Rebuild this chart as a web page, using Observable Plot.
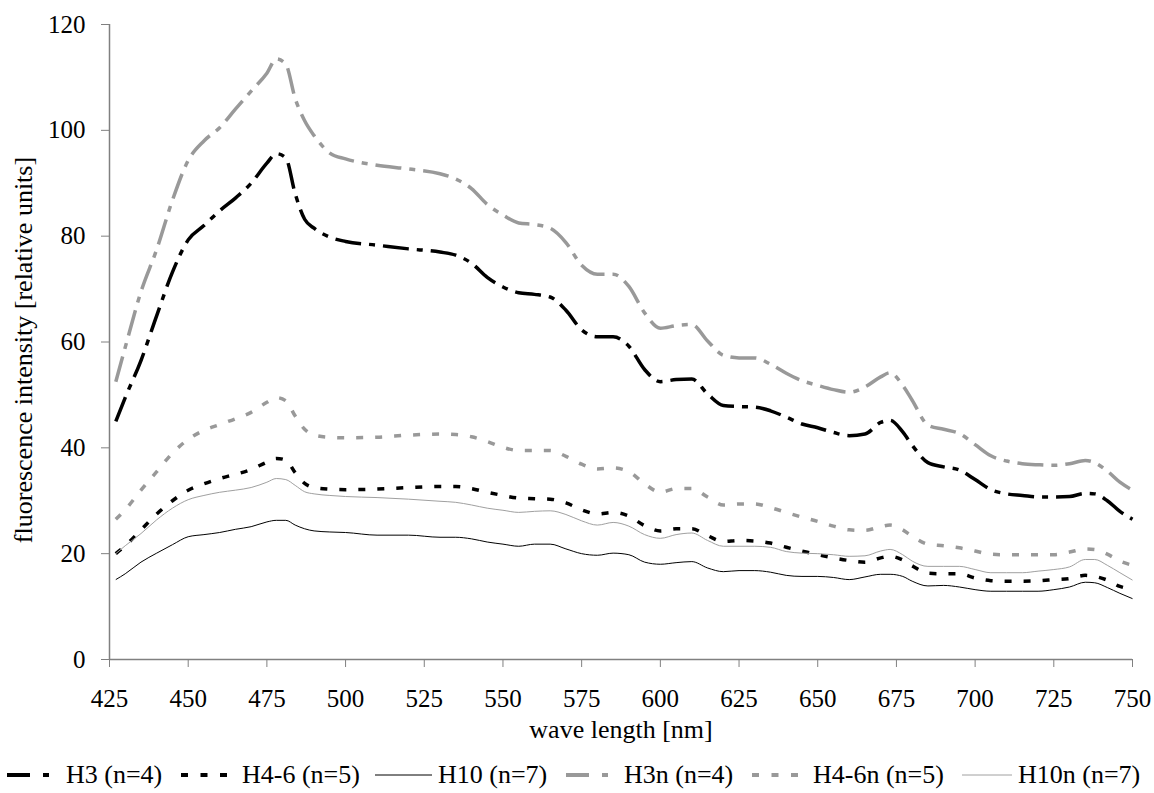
<!DOCTYPE html>
<html>
<head>
<meta charset="utf-8">
<script src="https://cdn.jsdelivr.net/npm/d3@7"></script>
<script src="https://cdn.jsdelivr.net/npm/@observablehq/plot@0.6"></script>
<style>
  html, body { margin: 0; padding: 0; background: #fff; }
  body { width: 1154px; height: 793px; overflow: hidden; font-family: "Liberation Serif", "Times New Roman", serif; }
  #chart svg g[aria-label^="x-axis"] line,
  #chart svg g[aria-label^="x-axis"] path,
  #chart svg g[aria-label^="y-axis"] line,
  #chart svg g[aria-label^="y-axis"] path { stroke: #808080; }
  #chart svg g[aria-label^="x-axis"] text,
  #chart svg g[aria-label^="y-axis"] text { font-size: 25px; fill: #000; font-family: "Liberation Serif", "Times New Roman", serif; }
  #legend { position: relative; width: 1154px; height: 48px; font-size: 26px; color: #000; }
  #legend .item { position: absolute; top: 30px; transform: translateY(-50%); display: flex; align-items: center; white-space: nowrap; line-height: 30px; }
</style>
</head>
<body>
<div id="chart"></div>
<div id="legend"></div>
<script>
// Wavelength grid (nm)
const wavelengths = [427,430,435,440,445,450,455,460,465,470,475,478,481,484,487,490,495,500,510,520,530,535,540,545,550,555,560,565,570,575,580,585,590,595,600,605,610,615,620,625,630,635,640,645,650,655,660,665,670,673,677,680,685,690,695,700,705,710,715,720,725,730,735,738,742,746,750];

const seriesNames = ["H3 (n=4)", "H4-6 (n=5)", "H10 (n=7)", "H3n (n=4)", "H4-6n (n=5)", "H10n (n=7)"];

const H3 = [45,49.5,56.5,65,73.2,79.3,82,84.8,87.2,90,93.8,95.6,94.8,88,83.2,81.5,79.8,79,78.3,77.6,77,76.4,74.9,72.2,70.4,69.3,69,68.5,66,62.3,61,61,59.2,54.8,52.5,52.9,53,50.2,48,47.8,47.7,47,45.8,44.5,43.8,42.9,42.3,42.6,44.8,45.2,43,40.5,37.2,36.4,35.8,34,32.1,31.3,31,30.7,30.7,30.8,31.4,31.3,30,28,26.5];
const H46 = [20,21.5,24.5,27.5,30,32,33.2,34.2,35,35.9,37.3,38,37.7,35.3,33.3,32.5,32.2,32.1,32.2,32.5,32.7,32.7,32.3,31.6,31,30.5,30.4,30.3,29.6,28.3,27.5,27.8,27.1,25.3,24.3,24.7,24.7,23.4,22.3,22.5,22.4,22,21.2,20.5,19.8,19.2,18.7,18.4,19.2,19.5,18.8,17.7,16.3,16.2,16.2,15.4,14.9,14.8,14.8,14.9,15.1,15.3,15.9,15.7,15,13.8,13.3];
const H10 = [15.1,16.2,18.4,20.1,21.7,23.2,23.6,24,24.6,25.1,26,26.3,26.3,25.4,24.7,24.3,24.1,24,23.5,23.5,23.1,23.1,22.8,22.2,21.8,21.4,21.8,21.8,20.9,20,19.7,20.1,19.8,18.4,18,18.3,18.5,17.3,16.6,16.8,16.8,16.5,15.9,15.7,15.7,15.5,15.1,15.6,16.1,16.1,15.7,14.8,13.9,14,13.7,13.2,12.9,12.9,12.9,12.9,13.2,13.7,14.6,14.5,13.6,12.5,11.5];
const H3n = [52.5,59,69.5,77.5,86.8,94.3,98,100.5,104,107.4,110.8,113.5,112.5,106,101.8,99,95.7,94.6,93.4,92.7,91.8,90.8,89,86,84,82.5,82.2,81.5,78.8,74.5,72.8,72.8,70.5,65.5,62.6,63.1,63.3,60.2,57.5,57,57,55.8,54.1,52.7,51.8,51,50.5,51.5,53.4,54.2,51.8,49,44.3,43.5,42.7,40.6,38.5,37.5,37,36.8,36.7,37,37.6,37.2,35.6,33.5,32];
const H46n = [26.5,28.3,32,35.5,39,41.6,43.3,44.4,45.5,46.7,48.6,49.5,48.9,46,43.5,42.4,42,41.9,42,42.4,42.6,42.5,42.1,41.2,40.1,39.5,39.5,39.5,38.4,36.9,36,36.2,35.5,33.2,31.6,32.3,32.3,30.7,29.2,29.4,29.4,28.7,27.8,26.9,26.1,25.2,24.5,24.4,25.1,25.4,24.5,23.3,21.8,21.5,21.1,20.5,19.9,19.8,19.8,19.8,19.8,20.3,20.9,20.8,19.9,18.6,17.8];
const H10n = [20,21.5,23.8,26.4,28.6,30.2,31,31.6,32,32.5,33.5,34.2,34,32.9,31.7,31.3,31,30.8,30.6,30.3,29.9,29.7,29.2,28.6,28.2,27.8,28,28.1,27.4,26.2,25.4,25.9,25.2,23.6,22.9,23.6,23.9,22.5,21.4,21.4,21.4,21.2,20.4,20.1,20,19.8,19.5,19.6,20.5,20.8,19.8,18.6,17.6,17.6,17.6,17,16.4,16.4,16.4,16.7,17,17.5,18.9,18.9,17.8,16.4,15];

const xTicks = [425,450,475,500,525,550,575,600,625,650,675,700,725,750];
const yTicks = [0,20,40,60,80,100,120];

const seriesValues = [H3, H46, H10, H3n, H46n, H10n];

// Styles (kept separate from data)
const styles = [
  {stroke: "#000", width: 3.5, dash: "26,8,6,8"},
  {stroke: "#000", width: 3.5, dash: "7,12"},
  {stroke: "#000", width: 1, dash: null},
  {stroke: "#999", width: 3.5, dash: "26,8,6,8"},
  {stroke: "#999", width: 3.5, dash: "7,12"},
  {stroke: "#a0a0a0", width: 1, dash: null}
];
// Legend layout: item left x, swatch width, swatch dash, gap to text
const legendLayout = [
  {left: 7, w: 43, dash: "23,13,6,13", gap: 16},
  {left: 181, w: 46, dash: "7,12.5", gap: 15},
  {left: 375, w: 57, dash: null, gap: 6},
  {left: 566, w: 42, dash: "23,13,6,13", gap: 16},
  {left: 752, w: 46, dash: "7,12.5", gap: 15},
  {left: 962, w: 50, dash: null, gap: 6}
];

const tables = seriesValues.map((vals, i) =>
  wavelengths.map((w, j) => ({wl: w, v: vals[j], series: seriesNames[i]}))
);

const lineMarks = tables.map((t, i) => Plot.line(t, {
  x: "wl", y: "v",
  stroke: styles[i].stroke,
  strokeWidth: styles[i].width,
  strokeDasharray: styles[i].dash,
  curve: "monotone-x",
  strokeLinecap: "butt",
  strokeLinejoin: "round"
}));

const plot = Plot.plot({
  width: 1154,
  height: 745,
  marginLeft: 109,
  marginRight: 22,
  marginTop: 24,
  marginBottom: 86,
  style: {fontFamily: "'Liberation Serif', 'Times New Roman', serif", fontSize: "25px", color: "#000", background: "#fff", overflow: "visible"},
  x: {domain: [425, 750], ticks: xTicks, tickSize: 8, tickPadding: 22, label: null, tickFormat: d => String(d)},
  y: {domain: [0, 120], ticks: yTicks, tickSize: 8, tickPadding: 16, label: null, tickFormat: d => String(d)},
  marks: [
    Plot.ruleX([425], {stroke: "#808080", strokeWidth: 1.5}),
    Plot.ruleY([0], {stroke: "#808080", strokeWidth: 1.5}),
    ...lineMarks,
    Plot.text(["wave length [nm]"], {frameAnchor: "bottom", dy: 78, fontSize: 26, fill: "#000"}),
    Plot.text(["fluorescence intensity [relative units]"], {frameAnchor: "left", textAnchor: "middle", rotate: -90, dx: -86, dy: 8, fontSize: 26, fill: "#000"})
  ]
});
document.getElementById("chart").appendChild(plot);

// Legend
const legend = document.getElementById("legend");
const svgNS = "http://www.w3.org/2000/svg";
seriesNames.forEach((name, i) => {
  const s = styles[i];
  const L = legendLayout[i];
  const item = document.createElement("div");
  item.className = "item";
  item.style.left = L.left + "px";
  const sv = document.createElementNS(svgNS, "svg");
  sv.setAttribute("width", L.w);
  sv.setAttribute("height", 12);
  sv.style.marginRight = L.gap + "px";
  const ln = document.createElementNS(svgNS, "line");
  ln.setAttribute("x1", 0); ln.setAttribute("x2", L.w);
  ln.setAttribute("y1", 6); ln.setAttribute("y2", 6);
  ln.setAttribute("stroke", s.stroke);
  ln.setAttribute("stroke-width", s.width === 1 ? 1 : 4);
  if (L.dash) ln.setAttribute("stroke-dasharray", L.dash);
  sv.appendChild(ln);
  item.appendChild(sv);
  const span = document.createElement("span");
  span.textContent = name;
  item.appendChild(span);
  legend.appendChild(item);
});
</script>
</body>
</html>
